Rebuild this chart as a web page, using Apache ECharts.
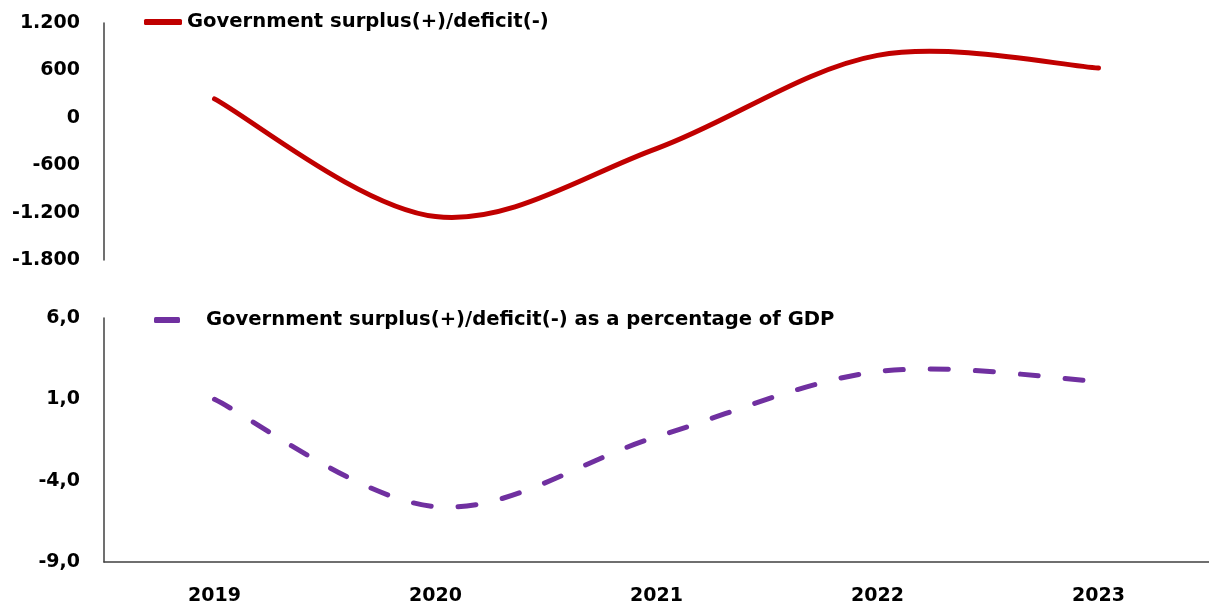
<!DOCTYPE html>
<html>
<head>
<meta charset="utf-8">
<script src="https://cdn.jsdelivr.net/npm/echarts@6/dist/echarts.min.js"></script>
<style>
  html, body { margin: 0; padding: 0; background: #fff; }
  #chart { width: 1209px; height: 610px; }
</style>
</head>
<body>
<div id="chart"></div>
<script>
// years on the shared x axis
const years = ['2019', '2020', '2021', '2022', '2023'];

// government balance, absolute (top panel)
const balance = [240, -1250, -390, 790, 630];
// government balance as % of GDP (bottom panel)
const balancePct = [1.0, -5.6, -1.3, 2.7, 2.1];

const balanceName = 'Government surplus(+)/deficit(-)';
const pctName = 'Government surplus(+)/deficit(-) as a percentage of GDP';

// tick labels
const balanceTicks = [-1800, -1200, -600, 0, 600, 1200];
const pctTicks = [-9, -4, 1, 6];

const RED = '#C00000';
const PURPLE = '#7030A0';
const AXIS = '#404040';
const FONT = 'DejaVu Sans';

const fmtThousands = v => {
  const s = Math.abs(v).toString().replace(/\B(?=(\d{3})+(?!\d))/g, '.');
  return (v < 0 ? '-' : '') + s;
};
const fmtComma = v => v.toFixed(1).replace('.', ',');

// spreadsheet-style smoothed line (catmull-rom through the axis coords)
function smoothLine(name, values, axisIdx, color, dash) {
  return {
    name: name,
    type: 'custom',
    xAxisIndex: axisIdx,
    yAxisIndex: axisIdx,
    data: values.map((v, i) => [i, v]),
    itemStyle: { color: color },
    clip: false,
    renderItem: (params, api) => {
      if (params.dataIndex !== 0) return null;
      const pts = values.map((v, i) => api.coord([i, v]));
      const n = pts.length;
      let d = 'M' + pts[0][0] + ',' + pts[0][1];
      for (let i = 0; i < n - 1; i++) {
        const p0 = pts[Math.max(i - 1, 0)];
        const p1 = pts[i];
        const p2 = pts[i + 1];
        const p3 = pts[Math.min(i + 2, n - 1)];
        const c1x = p1[0] + (p2[0] - p0[0]) / 6;
        const c1y = p1[1] + (p2[1] - p0[1]) / 6;
        const c2x = p2[0] - (p3[0] - p1[0]) / 6;
        const c2y = p2[1] - (p3[1] - p1[1]) / 6;
        d += ' C' + c1x + ',' + c1y + ' ' + c2x + ',' + c2y + ' ' + p2[0] + ',' + p2[1];
      }
      return {
        type: 'path',
        shape: { pathData: d },
        style: { fill: null, stroke: color, lineWidth: 5, lineCap: 'round', lineDash: dash }
      };
    }
  };
}

const chart = echarts.init(document.getElementById('chart'));

chart.setOption({
  animation: false,
  backgroundColor: '#fff',
  legend: [
    {
      data: [balanceName],
      left: 144,
      top: 12,
      padding: 0,
      itemWidth: 38,
      itemHeight: 6,
      icon: 'roundRect',
      itemStyle: { color: RED },
      textStyle: { fontFamily: FONT, fontWeight: 'bold', fontSize: 19.6, color: '#000' }
    },
    {
      data: [pctName],
      left: 154,
      top: 310,
      padding: 0,
      itemWidth: 26,
      itemHeight: 6,
      icon: 'roundRect',
      itemStyle: { color: PURPLE },
      textStyle: { fontFamily: FONT, fontWeight: 'bold', fontSize: 19.6, color: '#000', padding: [0, 0, 0, 21] }
    }
  ],
  grid: [
    { left: 104, right: 0, top: 23, height: 237 },
    { left: 104, right: 0, top: 318, height: 244 }
  ],
  xAxis: [
    {
      gridIndex: 0,
      type: 'category',
      data: years,
      boundaryGap: true,
      axisLine: { show: false },
      axisTick: { show: false },
      axisLabel: { show: false }
    },
    {
      gridIndex: 1,
      type: 'category',
      data: years,
      boundaryGap: true,
      axisLine: { onZero: false, lineStyle: { color: AXIS, width: 1.5 } },
      axisTick: { show: false },
      axisLabel: { fontFamily: FONT, fontWeight: 'bold', fontSize: 19, color: '#000', margin: 25 }
    }
  ],
  yAxis: [
    {
      gridIndex: 0,
      type: 'value',
      min: balanceTicks[0],
      max: balanceTicks[balanceTicks.length - 1],
      interval: 600,
      splitLine: { show: false },
      axisTick: { show: false },
      axisLine: { show: true, lineStyle: { color: AXIS, width: 1.5 } },
      axisLabel: {
        fontFamily: FONT, fontWeight: 'bold', fontSize: 19, color: '#000', margin: 24,
        formatter: fmtThousands
      }
    },
    {
      gridIndex: 1,
      type: 'value',
      min: pctTicks[0],
      max: pctTicks[pctTicks.length - 1],
      splitLine: { show: false },
      axisTick: { show: false },
      axisLine: { show: true, lineStyle: { color: AXIS, width: 1.5 } },
      axisLabel: {
        fontFamily: FONT, fontWeight: 'bold', fontSize: 19, color: '#000', margin: 24,
        customValues: pctTicks,
        formatter: fmtComma
      }
    }
  ],
  series: [
    smoothLine(balanceName, balance, 0, RED, null),
    smoothLine(pctName, balancePct, 1, PURPLE, [18, 27])
  ]
});
</script>
</body>
</html>
